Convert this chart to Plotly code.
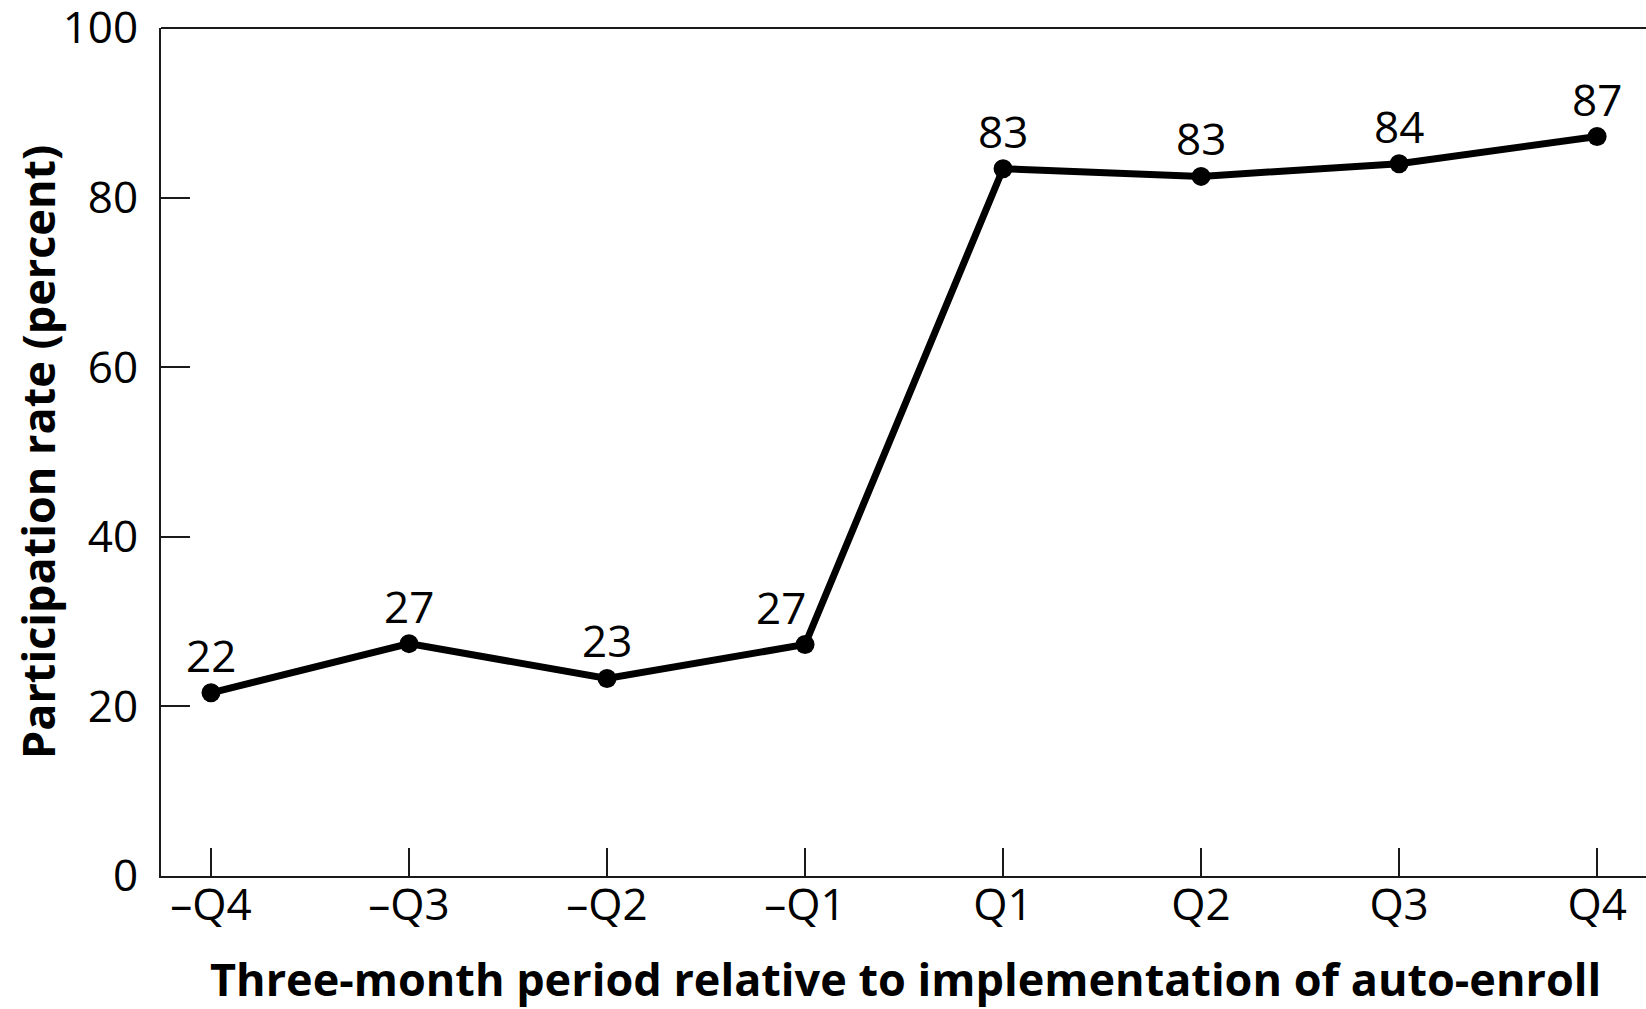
import plotly.graph_objects as go

periods = ["–Q4", "–Q3", "–Q2", "–Q1", "Q1", "Q2", "Q3", "Q4"]
participation = [21.6, 27.4, 23.3, 27.3, 83.4, 82.5, 84.0, 87.2]
value_labels = ["22", "27", "23", "27", "83", "83", "84", "87"]
y_ticks = [0, 20, 40, 60, 80, 100]

W, H = 1646, 1009
ML, MR, MT, MB = 161, 0, 28, 133
FONT = "Open Sans"
INK = "#1a1a1a"

fig = go.Figure()
fig.add_trace(go.Scatter(
    x=periods, y=participation, mode="lines+markers",
    line=dict(color="black", width=7),
    marker=dict(color="black", size=19),
    showlegend=False, hoverinfo="skip",
))

annotations = []
for i, (p, v, t) in enumerate(zip(periods, participation, value_labels)):
    annotations.append(dict(
        x=p, y=v, xref="x", yref="y", text=t, showarrow=False,
        xshift=-24 if i == 3 else 0, yshift=38,
        font=dict(family=FONT, size=44, color="black"),
        xanchor="center", yanchor="middle",
    ))

pw = W - ML - MR
ph = H - MT - MB
annotations.append(dict(
    x=(905 - ML) / pw, y=-(979 - (H - MB)) / ph, xref="paper", yref="paper",
    text="<b>Three-month period relative to implementation of auto-enroll</b>",
    showarrow=False, xanchor="center", yanchor="middle",
    font=dict(family=FONT, size=45, color="black"),
))
annotations.append(dict(
    x=-(ML - 37) / pw, y=0.5, xref="paper", yref="paper",
    text="<b>Participation rate (percent)</b>", textangle=-90,
    showarrow=False, xanchor="center", yanchor="middle",
    font=dict(family=FONT, size=45, color="black"),
))

fig.add_shape(type="line", xref="paper", yref="paper", x0=0, x1=1, y0=1, y1=1,
              line=dict(color=INK, width=2))

fig.update_layout(
    width=W, height=H,
    margin=dict(l=ML, r=MR, t=MT, b=MB, pad=0, autoexpand=False),
    paper_bgcolor="white", plot_bgcolor="white",
    annotations=annotations,
    xaxis=dict(
        type="category", range=[-0.2525, 7.247], automargin=False,
        showgrid=False, zeroline=False,
        showline=True, linecolor=INK, linewidth=2,
        ticks="inside", ticklen=28, tickwidth=2, tickcolor=INK,
        tickfont=dict(family=FONT, size=44, color="black"),
        ticklabelstandoff=-11, ticklabeloverflow="allow",
    ),
    yaxis=dict(
        range=[0, 100], tickvals=y_ticks, automargin=False,
        showgrid=False, zeroline=False,
        showline=True, linecolor=INK, linewidth=2,
        ticks="inside", ticklen=29, tickwidth=2, tickcolor=INK,
        tickfont=dict(family=FONT, size=44, color="black"),
        ticklabelstandoff=12, ticklabeloverflow="allow",
    ),
)

fig.write_html(
    "out.html",
    config={"displayModeBar": False},
    post_script="document.body.style.margin='0';document.body.style.overflow='hidden';",
)
